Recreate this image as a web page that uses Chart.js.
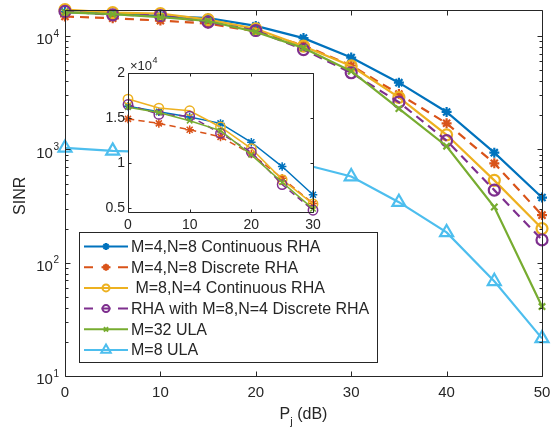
<!DOCTYPE html>
<html>
<head>
<meta charset="utf-8">
<script src="https://cdn.jsdelivr.net/npm/chart.js@4.4.0/dist/chart.umd.min.js"></script>
<style>
  body { margin: 0; background: #fff; }
  #wrap { position: relative; width: 557px; height: 432px; }
  #main { position: absolute; left: 0; top: 0; }
  #inset { position: absolute; left: 95px; top: 55px; }
</style>
</head>
<body>
<div id="wrap">
  <canvas id="main" width="557" height="432"></canvas>
  <canvas id="inset" width="230" height="180"></canvas>
</div>
<script>
// P_j in dB
const pj = [0, 5, 10, 15, 20, 25, 30, 35, 40, 45, 50];

// SINR values
const contRha48 = [16300, 15700, 15100, 14400, 12300, 9600, 6460, 3880, 2140, 936, 376];
const discRha48 = [14900, 14400, 13700, 12900, 11000, 8300, 5500, 3080, 1700, 754, 263];
const contRha84 = [17100, 16100, 15800, 14000, 11600, 8150, 5450, 2880, 1345, 533, 200];
const discRha84 = [16500, 15400, 15200, 13300, 11200, 7600, 4750, 2610, 1196, 437, 159];
const ula32 = [16200, 15600, 14700, 13600, 10900, 7850, 4900, 2290, 1067, 310, 41];
const ula8 = [1030, 970, 940, 900, 840, 740, 576, 342, 185, 68.5, 21.5];

const seriesNames = ['M=4,N=8 Continuous RHA', 'M=4,N=8 Discrete RHA', ' M=8,N=4 Continuous RHA',
  'RHA with M=8,N=4 Discrete RHA', 'M=32 ULA', 'M=8 ULA'];
const allSeries = [contRha48, discRha48, contRha84, discRha84, ula32, ula8];

// tick labels
const xTicks = [0, 10, 20, 30, 40, 50];
const yDecades = [10, 100, 1000, 10000];
const yExps = ['1', '2', '3', '4'];
const insetXTicks = [0, 10, 20, 30];
const insetYTicks = [0.5, 1, 1.5, 2];
const insetYLabels = ['0.5', '1', '1.5', '2'];
const insetCount = 7; // points 0..30 dB

const styles = [
  { color: '#0072BD', marker: 'star', r: 5, lr: 3.5, dash: [] },
  { color: '#D95319', marker: 'star', r: 5, lr: 3.5, dash: [9, 6] },
  { color: '#EDB120', marker: 'circle', r: 5.5, lr: 3.5, dash: [] },
  { color: '#7E2F8E', marker: 'circle', r: 5.5, lr: 3.5, dash: [9, 6] },
  { color: '#77AC30', marker: 'crossRot', r: 4.5, lr: 3, dash: [] },
  { color: '#4DBEEE', marker: 'triangle', r: 7.5, lr: 5.5, dash: [] }
];

const TXT = '#262626';
const FONT = '"Liberation Sans", Arial, sans-serif';

function crisp(v) { return Math.round(v) + 0.5; }

function drawBoxAndTicks(chart, xt, yt, yMinor, len, minorLen) {
  const { ctx, chartArea: a, scales } = chart;
  const L = crisp(a.left), R = crisp(a.right), T = crisp(a.top), B = crisp(a.bottom);
  ctx.save();
  ctx.strokeStyle = TXT;
  ctx.lineWidth = 1;
  ctx.beginPath();
  ctx.rect(L, T, R - L, B - T);
  xt.forEach(v => {
    const px = crisp(scales.x.getPixelForValue(v));
    ctx.moveTo(px, B); ctx.lineTo(px, B - len);
    ctx.moveTo(px, T); ctx.lineTo(px, T + len);
  });
  yt.forEach(v => {
    const py = crisp(scales.y.getPixelForValue(v));
    ctx.moveTo(L, py); ctx.lineTo(L + len, py);
    ctx.moveTo(R, py); ctx.lineTo(R - len, py);
  });
  yMinor.forEach(v => {
    const py = crisp(scales.y.getPixelForValue(v));
    ctx.moveTo(L, py); ctx.lineTo(L + minorLen, py);
    ctx.moveTo(R, py); ctx.lineTo(R - minorLen, py);
  });
  ctx.stroke();
  ctx.restore();
}

function marker(ctx, st, r, x, y, lw) {
  ctx.strokeStyle = st.color;
  ctx.fillStyle = 'rgba(0,0,0,0)';
  ctx.lineWidth = lw;
  ctx.setLineDash([]);
  Chart.helpers.drawPoint(ctx, { pointStyle: st.marker, rotation: 0, radius: r, borderWidth: lw }, x, y);
}

const mainDecor = {
  id: 'mainDecor',
  afterDraw(chart) {
    const { ctx, chartArea: a, scales } = chart;
    // minor log ticks
    const minor = [];
    yDecades.forEach(d => {
      for (let k = 2; k <= 9; k++) if (k * d <= scales.y.max) minor.push(k * d);
    });
    drawBoxAndTicks(chart, xTicks, yDecades, minor, 5, 3);

    ctx.save();
    ctx.fillStyle = TXT;
    ctx.textBaseline = 'middle';
    // x tick labels
    ctx.font = '15px ' + FONT;
    ctx.textAlign = 'center';
    xTicks.forEach(v => ctx.fillText(String(v), scales.x.getPixelForValue(v), 393));
    // y tick labels 10^n
    yDecades.forEach((d, i) => {
      const py = scales.y.getPixelForValue(d);
      ctx.font = '10px ' + FONT;
      const sw = ctx.measureText(yExps[i]).width;
      const baseRight = a.left - 6 - sw - 0.5;
      ctx.textAlign = 'left';
      ctx.fillText(yExps[i], baseRight + 0.5, py - 2);
      ctx.font = '15px ' + FONT;
      ctx.textAlign = 'right';
      ctx.fillText('10', baseRight, py + 4);
    });
    // x title P_j (dB)
    ctx.font = '16px ' + FONT;
    const wP = ctx.measureText('P').width;
    const wRest = ctx.measureText(' (dB)').width;
    ctx.font = '11px ' + FONT;
    const wj = ctx.measureText('j').width;
    let sx = (a.left + a.right) / 2 - (wP + wj + wRest) / 2;
    ctx.textAlign = 'left';
    ctx.font = '16px ' + FONT;
    ctx.fillText('P', sx, 415);
    ctx.font = '11px ' + FONT;
    ctx.fillText('j', sx + wP, 422);
    ctx.font = '16px ' + FONT;
    ctx.fillText(' (dB)', sx + wP + wj, 415);
    // y title
    ctx.translate(21, (a.top + a.bottom) / 2 + 3);
    ctx.rotate(-Math.PI / 2);
    ctx.textAlign = 'center';
    ctx.fillText('SINR', 0, 0);
    ctx.restore();

    // legend
    const lx = 79, ly = 232, lw = 298, lh = 130;
    ctx.save();
    ctx.fillStyle = '#fff';
    ctx.fillRect(lx, ly, lw, lh);
    ctx.strokeStyle = TXT;
    ctx.lineWidth = 1;
    ctx.strokeRect(lx + 0.5, ly + 0.5, lw, lh);
    chart.data.datasets.forEach((ds, i) => {
      const st = styles[i];
      const cy = 246.5 + i * 20.7;
      const x0 = 84, x1 = 128, xc = 106;
      ctx.strokeStyle = st.color;
      ctx.lineWidth = 2;
      ctx.setLineDash([]);
      ctx.beginPath();
      if (st.dash.length) {
        ctx.moveTo(x0, cy); ctx.lineTo(x0 + 9, cy);
        ctx.moveTo(xc - 4.5, cy); ctx.lineTo(xc + 4.5, cy);
        ctx.moveTo(x1 - 10, cy); ctx.lineTo(x1, cy);
      } else {
        ctx.moveTo(x0, cy); ctx.lineTo(x1, cy);
      }
      ctx.stroke();
      marker(ctx, st, st.lr, xc, cy, 2);
      ctx.fillStyle = TXT;
      ctx.font = '16px ' + FONT;
      ctx.textAlign = 'left';
      ctx.textBaseline = 'middle';
      ctx.fillText(ds.label, 131, cy + 1);
    });
    ctx.restore();
  }
};

const insetDecor = {
  id: 'insetDecor',
  beforeDatasetsDraw(chart) {
    const { ctx, chartArea: a } = chart;
    ctx.save();
    ctx.fillStyle = '#fff';
    ctx.fillRect(a.left, a.top, a.right - a.left, a.bottom - a.top);
    ctx.restore();
  },
  afterDraw(chart) {
    const { ctx, chartArea: a, scales } = chart;
    drawBoxAndTicks(chart, insetXTicks, insetYTicks, [], 3, 0);
    ctx.save();
    ctx.fillStyle = TXT;
    ctx.textBaseline = 'middle';
    ctx.font = '14px ' + FONT;
    ctx.textAlign = 'center';
    insetXTicks.forEach(v => ctx.fillText(String(v), scales.x.getPixelForValue(v), a.bottom + 13));
    ctx.textAlign = 'right';
    insetYTicks.forEach((v, i) => ctx.fillText(insetYLabels[i], a.left - 3, scales.y.getPixelForValue(v)));
    // exponent label
    ctx.textAlign = 'left';
    ctx.font = '13px ' + FONT;
    ctx.fillText('\u00d710', a.left + 2, a.top - 7);
    const w = ctx.measureText('\u00d710').width;
    ctx.font = '9px ' + FONT;
    ctx.fillText('4', a.left + 2 + w + 0.5, a.top - 12);
    ctx.restore();
  }
};

function makeSets(count, lineW, dashScale, rScale, divide) {
  return allSeries.slice(0, count).map((s, i) => {
    const st = styles[i];
    return {
      label: seriesNames[i],
      data: pj.map((p, k) => ({ x: p, y: s[k] / divide })),
      borderColor: st.color,
      borderWidth: lineW,
      borderDash: st.dash.map(d => d * dashScale),
      pointStyle: st.marker,
      pointRadius: st.r * rScale,
      pointBorderWidth: lineW,
      pointBorderColor: st.color,
      pointBackgroundColor: 'rgba(0,0,0,0)',
      pointHoverRadius: st.r * rScale,
      fill: false,
      tension: 0,
      clip: false,
      order: 10 - i
    };
  });
}

new Chart(document.getElementById('main'), {
  type: 'line',
  data: { datasets: makeSets(6, 2.2, 1, 1, 1) },
  options: {
    responsive: false,
    animation: false,
    devicePixelRatio: 1,
    layout: { padding: { top: 3, right: 15, left: 0, bottom: 0 } },
    plugins: { legend: { display: false }, tooltip: { enabled: false } },
    scales: {
      x: {
        type: 'linear', min: 0, max: 50,
        ticks: { display: false, stepSize: 10 },
        grid: { display: false, drawTicks: false },
        border: { display: false },
        afterFit: s => { s.height = 56; }
      },
      y: {
        type: 'logarithmic', min: 10, max: 17100,
        ticks: { display: false },
        grid: { display: false, drawTicks: false },
        border: { display: false },
        afterFit: s => { s.width = 65; }
      }
    }
  },
  plugins: [mainDecor]
});

const insetSets = makeSets(5, 1.5, 0.7, 0.85, 10000).map(ds => {
  ds.data = ds.data.slice(0, insetCount);
  return ds;
});

new Chart(document.getElementById('inset'), {
  type: 'line',
  data: { datasets: insetSets },
  options: {
    responsive: false,
    animation: false,
    devicePixelRatio: 1,
    layout: { padding: { top: 18, right: 12, left: 0, bottom: 0 } },
    plugins: { legend: { display: false }, tooltip: { enabled: false } },
    scales: {
      x: {
        type: 'linear', min: 0, max: 30,
        ticks: { display: false },
        grid: { display: false, drawTicks: false },
        border: { display: false },
        afterFit: s => { s.height = 23; }
      },
      y: {
        type: 'linear', min: 0.455, max: 2,
        ticks: { display: false },
        grid: { display: false, drawTicks: false },
        border: { display: false },
        afterFit: s => { s.width = 33; }
      }
    }
  },
  plugins: [insetDecor]
});
</script>
</body>
</html>
